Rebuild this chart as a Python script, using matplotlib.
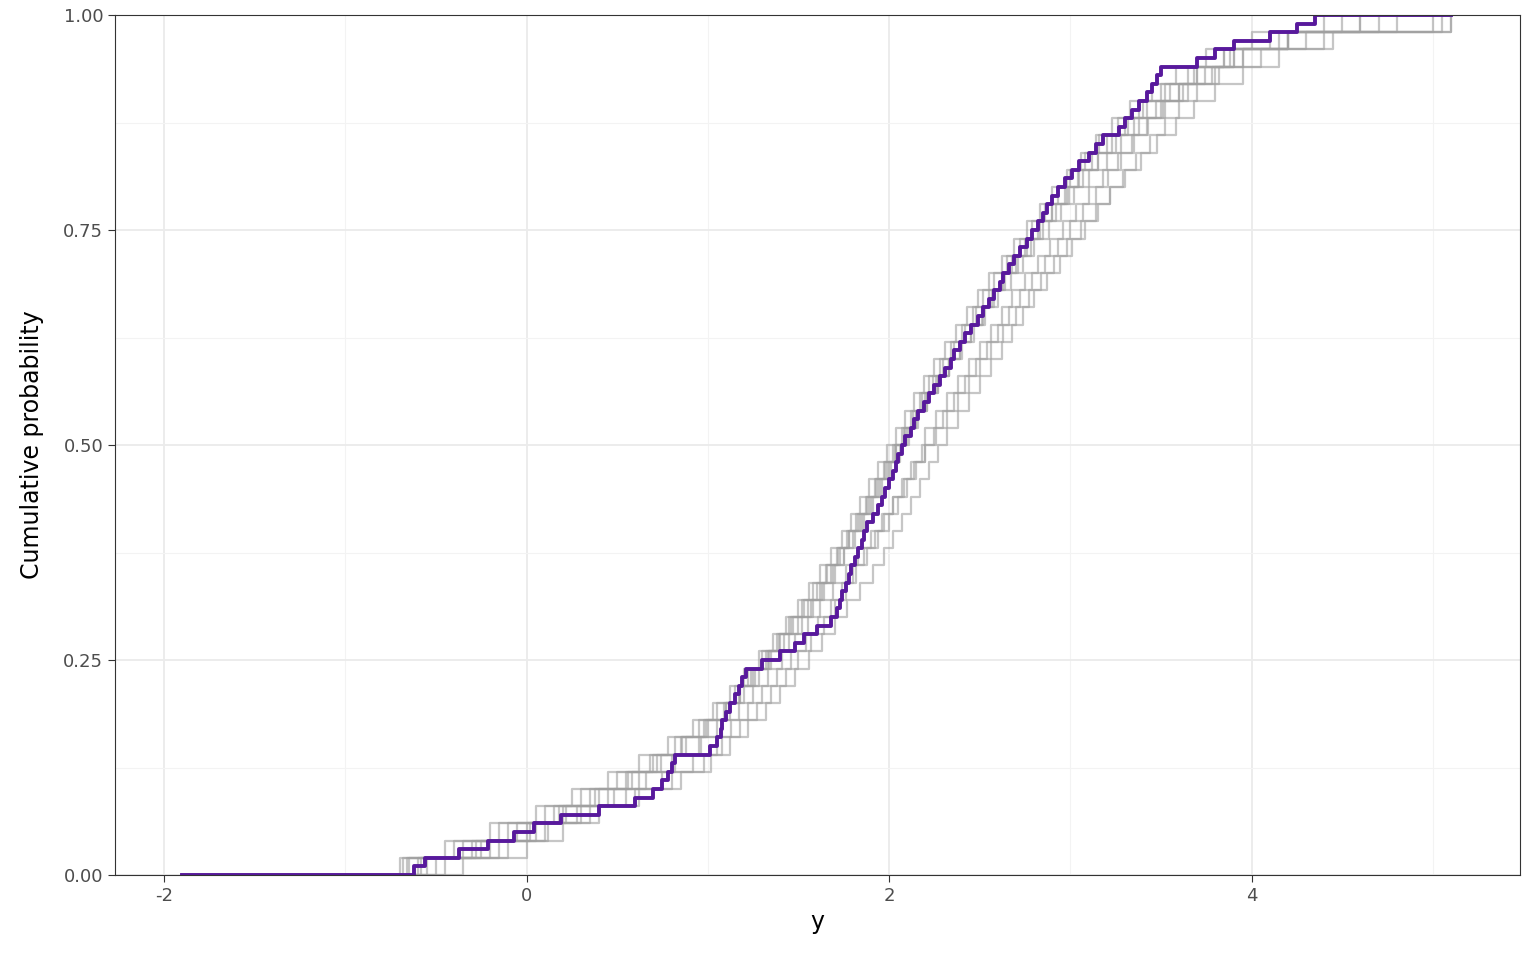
import matplotlib
matplotlib.use("Agg")
import matplotlib.pyplot as plt
import numpy as np

observed = [-0.62,-0.56,-0.37,-0.21,-0.07,0.04,0.19,0.40,0.60,0.70,0.75,0.78,0.80,0.82,1.01,1.05,1.07,1.08,1.10,1.12,
            1.15,1.17,1.19,1.21,1.30,1.40,1.48,1.53,1.60,1.68,1.71,1.73,1.74,1.76,1.78,1.79,1.81,1.83,1.85,1.86,
            1.88,1.91,1.94,1.96,1.98,2.00,2.02,2.04,2.05,2.07,2.09,2.12,2.14,2.16,2.19,2.22,2.25,2.28,2.31,2.34,
            2.36,2.39,2.42,2.45,2.49,2.52,2.55,2.58,2.61,2.63,2.66,2.69,2.72,2.76,2.79,2.82,2.85,2.87,2.90,2.93,
            2.97,3.01,3.05,3.10,3.14,3.18,3.27,3.30,3.34,3.38,3.42,3.45,3.48,3.50,3.70,3.80,3.90,4.10,4.25,4.35]

rep1 = [-0.55,-0.30,-0.05,0.20,0.45,0.62,0.80,0.95,1.05,1.12,1.20,1.28,1.35,1.45,1.52,1.58,1.64,1.70,1.75,1.80,1.85,1.90,1.95,2.00,2.04,2.08,2.13,2.18,2.24,2.30,2.36,2.42,2.48,2.55,2.62,2.68,2.75,2.82,2.90,2.98,3.05,3.15,3.25,3.35,3.47,3.60,3.78,3.95,4.30,5.10]
rep2 = [-0.66,-0.40,-0.10,0.15,0.35,0.55,0.70,0.85,0.98,1.10,1.18,1.25,1.33,1.40,1.47,1.55,1.62,1.68,1.73,1.78,1.83,1.88,1.93,1.98,2.03,2.09,2.15,2.20,2.26,2.33,2.40,2.47,2.53,2.60,2.67,2.74,2.80,2.88,2.95,3.02,3.10,3.20,3.28,3.38,3.50,3.65,3.82,4.05,4.40,4.70]
rep3 = [-0.70,-0.20,0.05,0.30,0.55,0.75,0.92,1.05,1.13,1.22,1.30,1.38,1.46,1.54,1.61,1.68,1.74,1.80,1.86,1.92,1.97,2.02,2.07,2.12,2.18,2.20,2.26,2.32,2.38,2.44,2.50,2.56,2.62,2.68,2.75,2.82,2.89,2.96,3.03,3.10,3.18,3.26,3.34,3.42,3.52,3.62,3.74,3.90,4.20,5.05]
rep4 = [-0.65,-0.35,-0.15,0.10,0.30,0.50,0.68,0.82,0.95,1.05,1.15,1.22,1.30,1.38,1.45,1.52,1.58,1.65,1.71,1.77,1.82,1.87,1.92,1.97,2.02,2.07,2.12,2.17,2.22,2.28,2.34,2.40,2.46,2.52,2.58,2.65,2.72,2.79,2.86,2.93,3.00,3.08,3.16,3.26,3.38,3.50,3.65,3.85,4.15,4.60]
rep5 = [-0.50,-0.10,0.10,0.35,0.60,0.80,0.98,1.08,1.18,1.27,1.35,1.43,1.50,1.57,1.64,1.70,1.76,1.82,1.88,1.94,2.00,2.05,2.10,2.15,2.20,2.25,2.30,2.36,2.42,2.48,2.54,2.60,2.66,2.72,2.79,2.86,2.93,3.00,3.07,3.14,3.21,3.28,3.35,3.43,3.51,3.60,3.70,3.85,4.10,5.10]
rep6 = [-0.45,-0.25,0.00,0.22,0.40,0.58,0.74,0.88,1.00,1.10,1.18,1.26,1.34,1.42,1.50,1.57,1.63,1.69,1.75,1.81,1.86,1.91,1.96,2.01,2.06,2.11,2.16,2.21,2.27,2.33,2.39,2.45,2.51,2.57,2.63,2.70,2.76,2.83,2.90,2.97,3.04,3.12,3.20,3.30,3.40,3.52,3.68,3.88,4.20,4.50]
rep7 = [-0.60,-0.15,0.12,0.28,0.48,0.66,0.82,0.96,1.08,1.17,1.25,1.33,1.41,1.48,1.55,1.62,1.69,1.76,1.83,1.90,1.96,2.02,2.08,2.14,2.20,2.26,2.32,2.38,2.44,2.50,2.56,2.63,2.70,2.77,2.84,2.91,2.98,3.06,3.14,3.22,3.30,3.39,3.48,3.58,3.68,3.80,3.95,4.15,4.45,5.00]
rep8 = [-0.68,-0.45,-0.20,0.05,0.25,0.45,0.62,0.78,0.92,1.03,1.12,1.20,1.28,1.36,1.43,1.50,1.56,1.62,1.68,1.74,1.79,1.84,1.89,1.94,1.99,2.04,2.09,2.14,2.19,2.25,2.31,2.37,2.43,2.49,2.55,2.62,2.69,2.76,2.83,2.90,2.98,3.06,3.14,3.23,3.33,3.45,3.58,3.75,4.00,4.40]
rep9 = [-0.35,0.00,0.20,0.40,0.62,0.85,1.02,1.12,1.22,1.32,1.40,1.48,1.56,1.63,1.70,1.77,1.84,1.91,1.97,2.02,2.07,2.12,2.17,2.22,2.27,2.32,2.38,2.44,2.50,2.56,2.62,2.68,2.74,2.80,2.87,2.94,3.01,3.08,3.15,3.22,3.29,3.36,3.44,3.52,3.60,3.70,3.80,3.95,4.20,4.60]
rep10 = [-0.58,-0.28,0.02,0.18,0.38,0.56,0.72,0.86,0.99,1.09,1.17,1.24,1.32,1.39,1.46,1.53,1.60,1.66,1.72,1.78,1.84,1.89,1.94,1.99,2.04,2.10,2.15,2.21,2.27,2.33,2.39,2.45,2.52,2.58,2.64,2.71,2.78,2.85,2.92,2.99,3.07,3.15,3.23,3.32,3.42,3.55,3.70,3.90,4.20,4.80]
replicates = [rep1, rep2, rep3, rep4, rep5, rep6, rep7, rep8, rep9, rep10]

data_range = [-1.9, 5.1]
x_ticks = [-2, 0, 2, 4]
y_ticks = [0.0, 0.25, 0.5, 0.75, 1.0]
y_tick_labels = ["0.00", "0.25", "0.50", "0.75", "1.00"]

gmin, gmax = data_range

def ecdf_xy(v):
    v = np.sort(np.asarray(v))
    n = len(v)
    x = np.concatenate([[gmin], v, [gmax]])
    y = np.concatenate([[0], np.arange(1, n + 1) / n, [1]])
    return x, y

fig = plt.figure(figsize=(15.36, 9.6), dpi=100)
ax = fig.add_axes([115/1536, 1 - 875/960, (1520-115)/1536, (875-15)/960])

for r in replicates:
    x, y = ecdf_xy(r)
    ax.step(x, y, where="post", color="#a0a0a0", alpha=0.6, lw=1.6)
x, y = ecdf_xy(observed)
ax.step(x, y, where="post", color="#58199c", lw=2.8)

ax.set_xlim(-2.27, 5.48)
ax.set_ylim(0, 1)
ax.set_xticks(x_ticks)
ax.set_xticklabels([str(t) for t in x_ticks])
ax.set_xticks([-1, 1, 3, 5], minor=True)
ax.set_yticks(y_ticks)
ax.set_yticklabels(y_tick_labels)
ax.set_yticks([0.125, 0.375, 0.625, 0.875], minor=True)
ax.grid(which="major", color="#ebebeb", lw=1.3)
ax.grid(which="minor", color="#f3f3f3", lw=0.8)
ax.set_axisbelow(True)
ax.tick_params(which="minor", length=0)
ax.tick_params(which="major", length=5, color="#333333", labelsize=13, labelcolor="#4d4d4d")
for s in ax.spines.values():
    s.set_color("#333333")
ax.set_xlabel("y", fontsize=17)
ax.set_ylabel("Cumulative probability", fontsize=17, labelpad=14)
fig.savefig("out.png", dpi=100)
